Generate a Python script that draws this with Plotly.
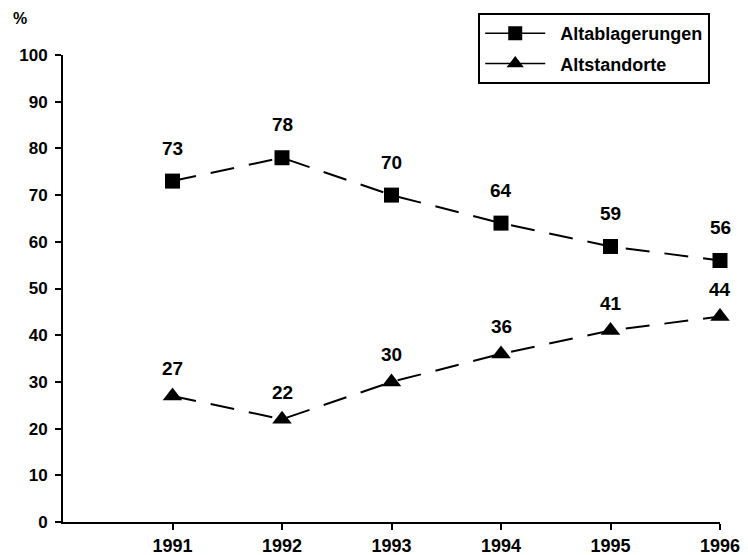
import plotly.graph_objects as go

years = [1991, 1992, 1993, 1994, 1995, 1996]
altablagerungen = [73, 78, 70, 64, 59, 56]
altstandorte = [27, 22, 30, 36, 41, 44]
y_ticks = [0, 10, 20, 30, 40, 50, 60, 70, 80, 90, 100]

FONT = "Liberation Sans"


def bold(size):
    return dict(family=FONT, size=size, color="black", weight="bold")


fig = go.Figure()
fig.add_trace(go.Scatter(
    x=years, y=altablagerungen, name="Altablagerungen", showlegend=False,
    mode="lines+markers", cliponaxis=False,
    line=dict(color="black", width=2, dash="24px,15px"),
    marker=dict(symbol="square", size=15, color="black"),
))
fig.add_trace(go.Scatter(
    x=years, y=altstandorte, name="Altstandorte", showlegend=False,
    mode="lines+markers", cliponaxis=False,
    line=dict(color="black", width=2, dash="24px,15px"),
    marker=dict(symbol="triangle-up", size=17, color="black"),
))
# legend entries (solid line as in the original legend)
fig.add_trace(go.Scatter(
    x=[None], y=[None], name="\u00a0\u00a0Altablagerungen", mode="lines+markers",
    legendgroup="a",
    line=dict(color="black", width=1.5),
    marker=dict(symbol="square", size=14, color="black"),
))
fig.add_trace(go.Scatter(
    x=[None], y=[None], name="\u00a0\u00a0Altstandorte", mode="lines+markers",
    legendgroup="b",
    line=dict(color="black", width=1.5),
    marker=dict(symbol="triangle-up", size=15, color="black"),
))

annotations = []
for x, v in zip(years, altablagerungen):
    annotations.append(dict(x=x, y=v, text=str(v), showarrow=False, yshift=33,
                            font=bold(19)))
for x, v in zip(years, altstandorte):
    annotations.append(dict(x=x, y=v, text=str(v), showarrow=False, yshift=27,
                            font=bold(19)))
annotations.append(dict(xref="paper", yref="paper", x=-0.065, y=1.079, text="%",
                        showarrow=False, xanchor="center", yanchor="middle",
                        font=bold(16)))

fig.update_layout(
    width=748, height=555,
    margin=dict(l=55, r=36, t=47, b=41, autoexpand=False),
    paper_bgcolor="white", plot_bgcolor="white",
    font=bold(17),
    showlegend=True,
    legend=dict(x=0.632, y=1.09, xanchor="left", yanchor="top",
                bordercolor="black", borderwidth=2, bgcolor="white",
                font=bold(18), itemwidth=60, tracegroupgap=4),
    annotations=annotations,
)
fig.update_xaxes(range=[1990, 1996], tickvals=years, ticktext=[str(y) for y in years],
                 showgrid=False, zeroline=False, showline=True, linecolor="black",
                 linewidth=2, ticks="outside", ticklen=6, tickcolor="black", tickwidth=1.5,
                 tickfont=bold(18), automargin=False)
fig.update_yaxes(range=[0, 100], tickvals=y_ticks, showgrid=False, zeroline=False,
                 showline=True, linecolor="black", linewidth=2, ticks="outside",
                 ticklen=6, tickcolor="black", tickwidth=1.5, tickfont=bold(17),
                 ticklabelstandoff=4, automargin=False)

fig.write_html("out.html")
